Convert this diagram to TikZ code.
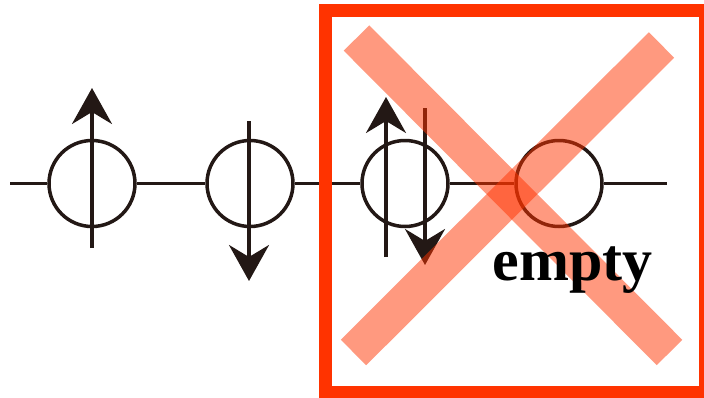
\documentclass[tikz,border=0pt]{standalone}
\usepackage{fontspec}
\setmainfont{Liberation Serif}
\usetikzlibrary{arrows.meta}
\definecolor{ink}{HTML}{231815}
\definecolor{boxred}{HTML}{FF3300}
\tikzset{
  orb/.style={draw=ink, circle, line width=3.5pt, minimum size=86pt, inner sep=0pt},
  wire/.style={draw=ink, line width=3.5pt},
  spin/.style={draw=ink, line width=3.5pt, -{Stealth[length=36pt, width=40pt, inset=12pt]}},
  cross/.style={draw=boxred, line width=36pt, opacity=0.5},
  frame/.style={draw=boxred, line width=12.5pt}
}
\begin{document}
\begin{tikzpicture}[x=1pt, y=-1pt]
\useasboundingbox (0,0) rectangle (704,397);
% orbitals
\node[orb] (c1) at (92,183.5) {};
\node[orb] (c2) at (250,183.5) {};
\node[orb] (c3) at (405,183.5) {};
\node[orb] (c4) at (559,183.5) {};
\coordinate (L) at (10,183.5);
\coordinate (R) at (667,183.5);
\draw[wire] (L) -- (c1.west);
\draw[wire] (c1.east) -- (c2.west);
\draw[wire] (c2.east) -- (c3.west);
\draw[wire] (c3.east) -- (c4.west);
\draw[wire] (c4.east) -- (R);
% spins
\coordinate (s1a) at (92,248);  \coordinate (s1b) at (92,88);
\coordinate (s2a) at (249,121); \coordinate (s2b) at (249,281);
\coordinate (s3a) at (386,257); \coordinate (s3b) at (386,97);
\coordinate (s4a) at (425,108); \coordinate (s4b) at (425,265);
\draw[spin] (s1a) -- (s1b);
\draw[spin] (s2a) -- (s2b);
\draw[spin] (s3a) -- (s3b);
\draw[spin] (s4a) -- (s4b);
% cross
\coordinate (x1) at (356.5,38);  \coordinate (x2) at (669.5,352.5);
\coordinate (x3) at (661.5,45);  \coordinate (x4) at (353.5,352.5);
\draw[cross] (x1) -- (x2);
\draw[cross] (x3) -- (x4);
% label
\node[anchor=base, inner sep=0pt, font=\bfseries\fontsize{60}{60}\selectfont] (lbl) at (572.5,280) {empty};
% frame
\coordinate (f1) at (325.5,10.5);
\coordinate (f2) at (705.5,392.5);
\draw[frame] (f1) rectangle (f2);
\end{tikzpicture}
\end{document}
